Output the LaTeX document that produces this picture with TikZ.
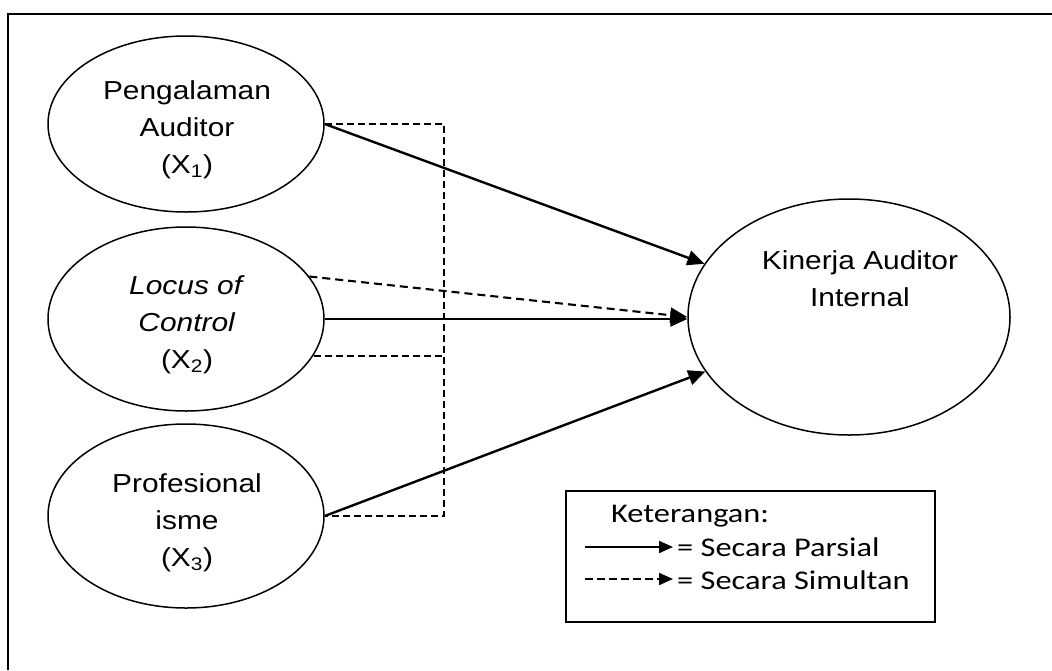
\documentclass[tikz,border=0pt]{standalone}
\usepackage{fontspec}
\newfontfamily\arialf[FakeStretch=1.15]{Liberation Sans}
\newfontfamily\calf[FakeStretch=1.2]{Carlito}
\usetikzlibrary{shapes.geometric,arrows.meta}
\begin{document}
\begin{tikzpicture}[x=1pt,y=-1pt,
  var/.style={ellipse, draw, line width=1.5pt, minimum width=276pt, minimum height=176pt, inner sep=0pt},
  vtext/.style={align=center, inner sep=0pt, font=\arialf\fontsize{26}{37}\selectfont},
  solidarrow/.style={line width=2.4pt, -{Triangle[length=17pt,width=15pt]}},
  dasharrow/.style={line width=2.1pt, dash pattern=on 8pt off 5pt, -{Triangle[length=17pt,width=15pt]}},
  dashline/.style={line width=2pt, dash pattern=on 7pt off 4pt},
  legtext/.style={anchor=base west, inner sep=0pt, font=\calf\fontsize{27}{30}\selectfont},
  legsolid/.style={line width=2pt, -{Triangle[length=14pt,width=12pt]}},
  legdash/.style={line width=2pt, dash pattern=on 8pt off 4pt, -{Triangle[length=14pt,width=12pt]}}
]
\useasboundingbox (0,0) rectangle (1052,670);
% outer frame (cropped at right and bottom)
\coordinate (fbl) at (8,670);
\coordinate (ftl) at (8,14);
\coordinate (ftr) at (1052,14);
\draw[line width=2.5pt] (fbl) -- (ftl) -- (ftr);

% variables
\node[var] (x1) at (186,124) {};
\node[var, minimum height=184pt] (x2) at (186,319) {};
\node[var, minimum height=184pt] (x3) at (186,516) {};
\node[vtext] (x1t) at (187,130) {Pengalaman\\Auditor\\(X\textsubscript{1})};
\node[vtext] (x2t) at (187,325) {\textit{Locus of}\\\textit{Control}\\(X\textsubscript{2})};
\node[vtext] (x3t) at (187,523) {Profesional\\isme\\(X\textsubscript{3})};
\node[ellipse, draw, line width=1.5pt, minimum width=322pt, minimum height=236pt, inner sep=0pt] (y) at (849,317) {};
\node[vtext] (yt) at (860,279) {Kinerja Auditor\\Internal};

% connectors
\coordinate (bus) at (444,0);
\draw[dashline] (x1.east) -- (x1.east -| bus) -- (x3.east -| bus) -- (x3.east);
\draw[dashline] (x2.-16) -- (x2.-16 -| bus);
\draw[dasharrow] (x2.19) -- (y.west);
\draw[solidarrow] (x1.east) -- (y);
\draw[solidarrow] (x2.east) -- (x2.east -| y.west);
\draw[solidarrow] (x3.east) -- (y);

% legend
\node[draw, line width=2pt, minimum width=369pt, minimum height=131pt, anchor=north west, inner sep=0pt] (leg) at (565,490) {};
\node[legtext] (ket) at (611,522) {Keterangan:};
\coordinate (p1) at (585,547);
\coordinate (p2) at (673,547);
\coordinate (q1) at (585,579);
\coordinate (q2) at (673,579);
\draw[legsolid] (p1) -- (p2);
\draw[legdash] (q1) -- (q2);
\node[legtext] (t1) at (677,556) {= Secara Parsial};
\node[legtext] (t2) at (677,589) {= Secara Simultan};
\end{tikzpicture}
\end{document}
